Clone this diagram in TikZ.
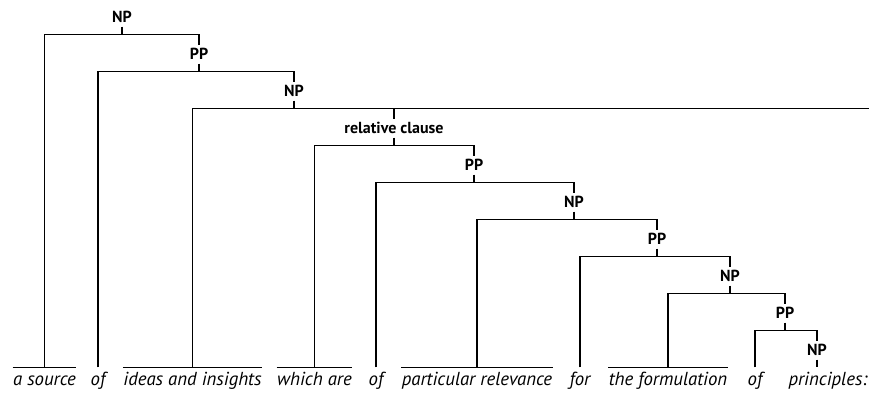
\documentclass[tikz,border=0pt]{standalone}
\usepackage{fontspec}
\setmainfont{PT Sans}
\usepackage{tikz}

\begin{document}
\begin{tikzpicture}[
  x=1pt, y=-1pt,
  line width=1.1pt,
  phrase/.style={font=\fontsize{16}{18}\selectfont\bfseries, anchor=base, inner sep=0pt, outer ysep=4pt, text height=11pt, text depth=0pt},
  word/.style={font=\fontsize{18.8}{20}\selectfont\itshape, anchor=base, inner xsep=0pt, inner ysep=0pt, text height=17pt, text depth=0pt},
  uline/.style={line width=1.1pt},
]
  \useasboundingbox (0,0) rectangle (869,394);
  % words on the baseline
  \node[word] (w1)  at (44.5,385)  {a source};
  \node[word] (w2)  at (98,385)    {of};
  \node[word] (w3)  at (192.5,385) {ideas and insights};
  \node[word] (w4)  at (314.5,385) {which are};
  \node[word] (w5)  at (376,385)   {of};
  \node[word] (w6)  at (477,385)   {particular relevance};
  \node[word] (w7)  at (580,385)   {for};
  \node[word] (w8)  at (668,385)   {the formulation};
  \node[word] (w9)  at (755,385)   {of};
  \node[word] (w10) at (828,385)   {principles:};
  \foreach \w in {w1,w3,w4,w6,w8}
    \draw[uline] (\w.north west) -- (\w.north east);
  % phrase labels
  \node[phrase] (np1) at (122,22.5)  {NP};
  \node[phrase] (pp1) at (199,59.5)  {PP};
  \node[phrase] (np2) at (294,96.5)  {NP};
  \node[phrase] (rc)  at (394,133.5) {relative clause};
  \node[phrase] (pp2) at (474,170.5) {PP};
  \node[phrase] (np3) at (574,207.5) {NP};
  \node[phrase] (pp3) at (657,244.5) {PP};
  \node[phrase] (np4) at (730,281.5) {NP};
  \node[phrase] (pp4) at (785,318.5) {PP};
  \node[phrase] (np5) at (817,355.5) {NP};
  \coordinate (edge) at (869,0);
  % branches
  \draw (np1.south) -- ++(0,8) coordinate (np1-b);
  \draw (w1.north) |- (np1-b) -| (pp1.north);
  \draw (pp1.south) -- ++(0,8) coordinate (pp1-b);
  \draw (w2.north) |- (pp1-b) -| (np2.north);
  \draw (np2.south) -- ++(0,8) coordinate (np2-b);
  \draw (w3.north) |- (np2-b) -| (rc.north);
  \draw (np2-b) -- (np2-b -| edge);
  \draw (rc.south) -- ++(0,8) coordinate (rc-b);
  \draw (w4.north) |- (rc-b) -| (pp2.north);
  \draw (pp2.south) -- ++(0,8) coordinate (pp2-b);
  \draw (w5.north) |- (pp2-b) -| (np3.north);
  \draw (np3.south) -- ++(0,8) coordinate (np3-b);
  \draw (w6.north) |- (np3-b) -| (pp3.north);
  \draw (pp3.south) -- ++(0,8) coordinate (pp3-b);
  \draw (w7.north) |- (pp3-b) -| (np4.north);
  \draw (np4.south) -- ++(0,8) coordinate (np4-b);
  \draw (w8.north) |- (np4-b) -| (pp4.north);
  \draw (pp4.south) -- ++(0,8) coordinate (pp4-b);
  \draw (w9.north) |- (pp4-b) -| (np5.north);
  \draw (np5.south) -- (np5.south |- w10.north);
\end{tikzpicture}
\end{document}
